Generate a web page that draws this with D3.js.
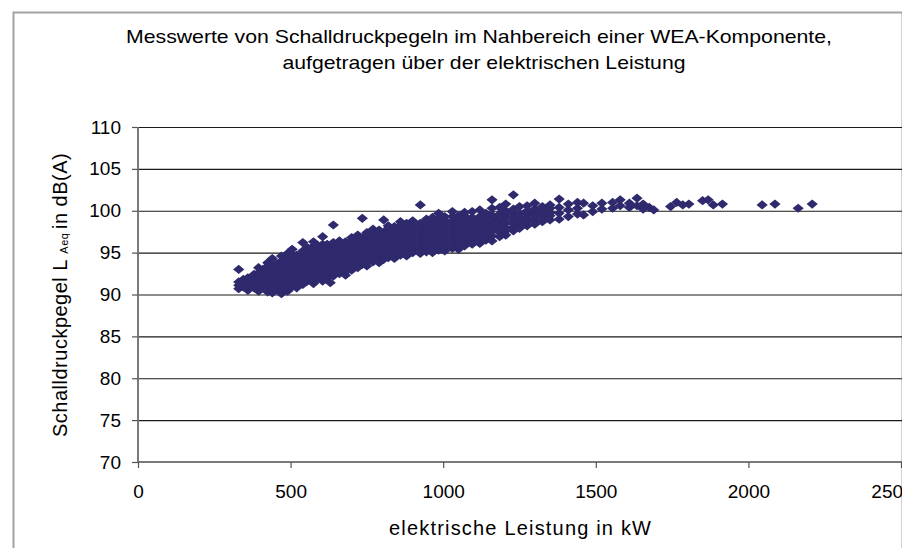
<!DOCTYPE html>
<html>
<head>
<meta charset="utf-8">
<script src="https://cdn.jsdelivr.net/npm/d3@7"></script>
<style>
  body { margin: 0; background: #fff; }
  text { font-family: "Liberation Sans", Arial, sans-serif; fill: #000; }
</style>
</head>
<body>
<svg id="chart" width="913" height="548"></svg>
<script>
const lowPowerColumns = [
  [330, [90.7, 91.1, 91.5, 93.0]],
  [345, [90.9, 91.4, 91.8]],
  [360, [90.5, 90.9, 91.2, 91.6, 92.0]],
  [380, [90.8, 91.2, 91.6, 92.0, 92.4]],
  [395, [90.4, 90.9, 91.3, 91.7, 92.1, 92.6, 93.2]],
  [410, [90.9, 91.3, 91.7, 92.2, 92.6, 93.0]],
  [425, [90.3, 90.8, 91.2, 91.6, 92.0, 92.5, 93.0, 93.4, 93.8]],
  [440, [90.2, 90.6, 90.9, 91.4, 91.8, 92.1, 92.5, 93.0, 93.4, 94.3]],
  [455, [90.6, 91.0, 91.4, 91.8, 92.2, 92.7, 93.1, 93.7]],
  [470, [90.1, 90.5, 91.0, 91.4, 91.9, 92.3, 92.7, 93.1, 93.5, 94.0, 94.6]],
  [490, [90.4, 90.8, 91.3, 91.7, 92.1, 92.5, 92.9, 93.4, 93.8, 94.3, 94.9]],
  [505, [90.9, 91.3, 91.7, 92.1, 92.5, 92.9, 93.3, 93.8, 94.2, 94.8, 95.4]],
  [520, [90.8, 91.1, 91.5, 91.9, 92.3, 92.7, 93.1, 93.5, 93.9, 94.3, 94.7]],
  [540, [91.2, 91.6, 92.0, 92.4, 92.8, 93.2, 93.6, 94.0, 94.4, 94.8, 95.2, 96.2]],
  [555, [91.6, 92.0, 92.4, 92.8, 93.2, 93.6, 94.0, 94.4, 94.8, 95.2, 95.6]],
  [575, [91.3, 91.7, 92.1, 92.5, 92.9, 93.3, 93.7, 94.1, 94.5, 94.9, 95.3, 95.8, 96.3]],
  [590, [91.9, 92.3, 92.6, 93.0, 93.4, 93.8, 94.2, 94.6, 95.0, 95.4, 95.8]],
  [605, [91.6, 92.0, 92.3, 92.7, 93.1, 93.5, 93.9, 94.3, 94.7, 95.1, 95.5, 96.0, 96.9]],
  [620, [92.0, 92.4, 92.8, 93.2, 93.6, 94.0, 94.4, 94.8, 95.2, 95.6, 96.0]],
  [630, [91.4]],
  [640, [92.2, 92.6, 93.0, 93.4, 93.8, 94.2, 94.6, 95.0, 95.4, 95.8, 96.2, 98.3]],
  [660, [92.5, 92.9, 93.3, 93.7, 94.1, 94.5, 94.9, 95.3, 95.7, 96.0, 96.4]],
  [680, [92.3, 92.7, 93.1, 93.5, 93.9, 94.3, 94.7, 95.1, 95.5, 95.9, 96.3]],
  [700, [92.9, 93.2, 93.6, 94.0, 94.4, 94.8, 95.2, 95.6, 96.0, 96.4, 96.8]]
];

const midPowerColumns = [
  [720, [93.2, 93.6, 94.0, 94.4, 94.8, 95.2, 95.6, 96.0, 96.4, 96.8, 97.1]],
  [735, [93.6, 94.0, 94.4, 94.8, 95.2, 95.6, 96.0, 96.4, 96.8, 99.1]],
  [750, [93.4, 93.8, 94.2, 94.6, 95.0, 95.4, 95.8, 96.2, 96.6, 97.0, 97.4]],
  [770, [93.9, 94.3, 94.7, 95.1, 95.5, 95.9, 96.3, 96.7, 97.1, 97.4, 97.8]],
  [790, [93.8, 94.2, 94.6, 95.0, 95.4, 95.8, 96.2, 96.6, 97.0, 97.3, 97.7]],
  [805, [94.2, 94.6, 95.0, 95.4, 95.8, 96.2, 96.6, 97.0, 97.4, 98.9]],
  [820, [94.4, 94.8, 95.2, 95.6, 96.0, 96.4, 96.8, 97.2, 97.6, 97.9, 98.2]],
  [840, [94.3, 94.7, 95.1, 95.5, 95.9, 96.3, 96.7, 97.1, 97.5, 97.8, 98.1]],
  [860, [94.7, 95.1, 95.5, 95.9, 96.3, 96.7, 97.1, 97.5, 97.9, 98.3, 98.7]],
  [880, [94.6, 95.0, 95.4, 95.8, 96.2, 96.6, 97.0, 97.4, 97.8, 98.1, 98.5]],
  [900, [95.0, 95.4, 95.8, 96.2, 96.6, 97.0, 97.4, 97.8, 98.2, 98.5, 98.8]],
  [925, [94.9, 95.3, 95.7, 96.1, 96.5, 96.9, 97.3, 97.7, 98.1, 98.5, 100.7]],
  [945, [95.1, 95.5, 95.9, 96.3, 96.7, 97.1, 97.5, 97.9, 98.3, 98.7, 99.0]],
  [965, [95.0, 95.4, 95.8, 96.2, 96.6, 97.0, 97.4, 97.8, 98.2, 98.7, 99.2]],
  [985, [95.3, 95.7, 96.1, 96.5, 96.9, 97.3, 97.7, 98.1, 98.5, 99.1, 99.7]],
  [1005, [95.2, 95.6, 96.0, 96.4, 96.8, 97.2, 97.6, 98.0, 98.4, 98.9, 99.3]],
  [1030, [95.5, 95.9, 96.3, 96.7, 97.1, 97.5, 97.9, 98.3, 98.7, 99.3, 99.9]],
  [1050, [95.4, 95.8, 96.2, 96.6, 97.0, 97.4, 97.8, 98.2, 98.6, 99.0, 99.4]],
  [1070, [95.8, 96.2, 96.6, 97.0, 97.4, 97.8, 98.2, 98.6, 99.0, 99.4, 99.8]],
  [1095, [96.0, 96.4, 96.8, 97.2, 97.6, 98.0, 98.4, 98.8, 99.2, 99.9]],
  [1120, [96.1, 96.5, 96.9, 97.3, 97.7, 98.1, 98.5, 98.9, 99.3, 100.1]]
];

const highPowerColumns = [
  [1140, [96.5, 96.9, 97.3, 97.7, 98.1, 98.5, 98.9, 99.3, 99.7]],
  [1160, [96.4, 97.0, 97.6, 98.1, 98.6, 99.0, 99.5, 100.3, 101.3]],
  [1185, [96.9, 97.4, 97.8, 98.3, 98.8, 99.2, 99.6, 100.4]],
  [1205, [97.1, 97.6, 98.0, 98.6, 99.2, 99.6, 100.0, 100.8]],
  [1230, [97.6, 98.0, 98.4, 98.9, 99.3, 99.8, 100.2, 101.9]],
  [1250, [97.9, 98.4, 98.9, 99.3, 99.7, 100.5]],
  [1275, [98.2, 98.7, 99.1, 99.6, 100.0, 100.6]],
  [1300, [98.4, 98.9, 99.4, 99.8, 100.2, 100.9]],
  [1325, [98.7, 99.2, 99.6, 100.1, 100.5]],
  [1350, [98.9, 99.4, 99.8, 100.3, 100.7]],
  [1380, [99.0, 99.7, 100.4, 101.4]],
  [1410, [99.3, 100.1, 100.8]],
  [1440, [99.6, 100.3, 101.0]],
  [1460, [99.5, 100.9]],
  [1490, [99.9, 100.6]],
  [1520, [100.2, 100.9]],
  [1555, [100.3, 101.0]],
  [1580, [100.6, 101.3]],
  [1610, [100.4, 100.9]],
  [1635, [100.6, 101.5]],
  [1655, [100.2, 100.8]],
  [1675, [100.4]], [1690, [100.1]], [1745, [100.5]], [1765, [101.0]],
  [1785, [100.7]], [1805, [100.8]], [1850, [101.2]], [1868, [101.3]],
  [1885, [100.7]], [1915, [100.8]], [2045, [100.7]], [2087, [100.8]],
  [2163, [100.3]], [2209, [100.8]]
];

const xTicks = [0, 500, 1000, 1500, 2000, 2500];
const yTicks = [70, 75, 80, 85, 90, 95, 100, 105, 110];

const titleLines = [
  'Messwerte von Schalldruckpegeln im Nahbereich einer WEA-Komponente,',
  'aufgetragen über der elektrischen Leistung'
];

const svg = d3.select('#chart');

const margin = { top: 127, left: 138 };
const plotRight = 901;
const plotBottom = 462;

const xScale = d3.scaleLinear().domain([0, 2500]).range([margin.left, plotRight]);
const yScale = d3.scaleLinear().domain([70, 110]).range([plotBottom, margin.top]);

svg.append('defs').append('clipPath').attr('id', 'frameClip')
  .append('rect').attr('x', 0).attr('y', 0).attr('width', 902).attr('height', 548);

const root = svg.append('g').attr('clip-path', 'url(#frameClip)');

// outer chart frame
root.append('path')
  .attr('d', 'M13.5,548V12.5H902.5V548')
  .attr('fill', 'none')
  .attr('stroke', '#a3a3a3')
  .attr('stroke-width', 2);

// title
root.selectAll('.title').data(titleLines).enter().append('text')
  .attr('class', 'title')
  .attr('x', (d, i) => i === 0 ? 479 : 484)
  .attr('y', (d, i) => 43 + i * 26)
  .attr('text-anchor', 'middle')
  .attr('font-size', 18.5)
  .attr('textLength', (d, i) => i === 0 ? 706 : 403)
  .attr('lengthAdjust', 'spacingAndGlyphs')
  .text(d => d);

// gridlines
root.append('g').selectAll('line').data(yTicks.filter(t => t > 70)).enter().append('line')
  .attr('x1', margin.left).attr('x2', plotRight + 1)
  .attr('y1', d => yScale(d) + 0.5).attr('y2', d => yScale(d) + 0.5)
  .attr('stroke', '#1a1a1a').attr('stroke-width', 1.2);

// measurements
const diamond = 'M0,-4.6L5.6,0L0,4.6L-5.6,0Z';
const allPoints = [];
lowPowerColumns.concat(midPowerColumns, highPowerColumns).forEach(([kw, levels]) => {
  levels.forEach(level => allPoints.push([kw, level]));
});
root.append('g').selectAll('path').data(allPoints).enter().append('path')
  .attr('d', diamond)
  .attr('transform', d => `translate(${xScale(d[0])},${yScale(d[1])})`)
  .attr('fill', '#2f2a6d');

// axes
const yAxis = d3.axisLeft(yScale).tickValues(yTicks).tickSize(6).tickPadding(11);
const yAxisG = root.append('g').attr('transform', `translate(${margin.left},0)`).call(yAxis);

const xAxis = d3.axisBottom(xScale).tickValues(xTicks).tickFormat(d3.format('d'))
  .tickSize(6).tickPadding(17);
const xAxisG = root.append('g').attr('transform', `translate(0,${plotBottom})`).call(xAxis);

[yAxisG, xAxisG].forEach(g => {
  g.select('.domain').attr('stroke', '#7a7a7a').attr('stroke-width', 2);
  g.selectAll('.tick line').attr('stroke', '#555').attr('stroke-width', 1.2);
  g.selectAll('.tick text')
    .attr('font-size', 19)
    .attr('fill', '#000')
    .style('font-family', '"Liberation Sans", Arial, sans-serif');
});
xAxisG.select('.domain').attr('d', `M${margin.left},0H${plotRight + 1}`);
yAxisG.select('.domain').attr('d', `M0,${plotBottom}V${margin.top}`);
// last label is pulled in so it ends at the chart area edge
xAxisG.selectAll('.tick text').filter(d => d === 2500).attr('dx', -9);

// axis titles
root.append('text')
  .attr('x', 520)
  .attr('y', 535)
  .attr('text-anchor', 'middle')
  .attr('font-size', 20)
  .attr('textLength', 262)
  .attr('lengthAdjust', 'spacing')
  .text('elektrische Leistung in kW');

const yTitle = root.append('text')
  .attr('transform', 'translate(67,437) rotate(-90)')
  .attr('font-size', 20)
  .attr('letter-spacing', 0.5);
yTitle.append('tspan').text('Schalldruckpegel L ');
yTitle.append('tspan').attr('font-size', 11).attr('dy', 1).text(' Aeq ');
yTitle.append('tspan').attr('dy', -1).text(' in dB(A)');
</script>
</body>
</html>
